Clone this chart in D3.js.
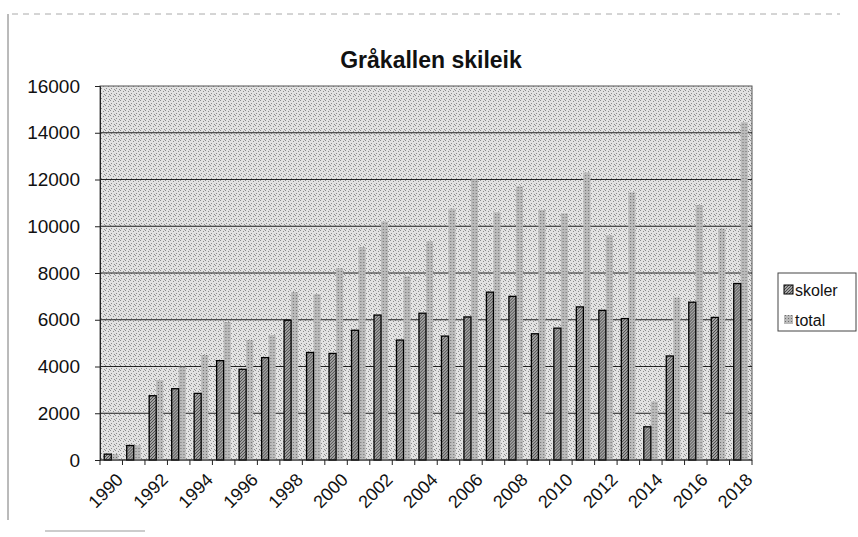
<!DOCTYPE html>
<html>
<head>
<meta charset="utf-8">
<script src="https://cdn.jsdelivr.net/npm/d3@7"></script>
<style>
  body { margin: 0; background: #fff; }
  text { font-family: "Liberation Sans", Arial, sans-serif; fill: #111; }
</style>
</head>
<body>
<div class="chart-box"></div>
<script>
// Data
const years = d3.range(1990, 2019).map(String);
const skoler = [250, 620, 2750, 3050, 2850, 4250, 3880, 4380, 5980, 4600, 4560, 5550, 6200, 5130, 6280,
  5300, 6120, 7180, 7000, 5400, 5640, 6550, 6400, 6050, 1420, 4450, 6750, 6100, 7550];
const total = [250, 620, 3420, 3990, 4490, 5900, 5130, 5350, 7180, 7100, 8200, 9100, 10200, 7850, 9350,
  10750, 12000, 10600, 11700, 10700, 10550, 12300, 9600, 11450, 2500, 6950, 10900, 9900, 14450];
const seriesNames = ['skoler', 'total'];
const yTicks = [0, 2000, 4000, 6000, 8000, 10000, 12000, 14000, 16000];

const W = 858, H = 537;
const plot = { left: 100, right: 752, top: 86, bottom: 460 };

const svg = d3.select('.chart-box')
  .append('svg')
    .attr('width', W)
    .attr('height', H);

// Stipple / hatch textures like the scanned print
const defs = svg.append('defs');
let bgPat = defs.append('pattern')
  .attr('id', 'bg').attr('width', 5).attr('height', 5)
  .attr('patternUnits', 'userSpaceOnUse');
bgPat.append('rect').attr('width', 5).attr('height', 5).attr('fill', '#e2e2e2');
[[0, 0], [3, 1], [1, 3], [4, 4]].forEach(p =>
  bgPat.append('rect').attr('x', p[0]).attr('y', p[1]).attr('width', 1).attr('height', 1).attr('fill', '#8c8c8c'));

let skPat = defs.append('pattern')
  .attr('id', 'sk').attr('width', 3).attr('height', 3)
  .attr('patternUnits', 'userSpaceOnUse');
skPat.append('rect').attr('width', 3).attr('height', 3).attr('fill', '#a4a4a4');
skPat.append('path').attr('d', 'M0,3 L3,0').attr('stroke', '#4a4a4a').attr('stroke-width', 1);

let toPat = defs.append('pattern')
  .attr('id', 'to').attr('width', 3).attr('height', 3)
  .attr('patternUnits', 'userSpaceOnUse');
toPat.append('rect').attr('width', 3).attr('height', 3).attr('fill', '#bababa');
toPat.append('rect').attr('x', 1).attr('y', 1).attr('width', 1).attr('height', 1).attr('fill', '#6e6e6e');

// Faint scan border of the chart area
svg.append('line')
  .attr('x1', 8).attr('x2', 8).attr('y1', 14).attr('y2', 520)
  .attr('stroke', '#777').attr('stroke-width', 1);
svg.append('line')
  .attr('x1', 12).attr('x2', 840).attr('y1', 14).attr('y2', 14)
  .attr('stroke', '#aaa').attr('stroke-width', 1).attr('stroke-dasharray', '6,5');
svg.append('line')
  .attr('x1', 45).attr('x2', 145).attr('y1', 531).attr('y2', 531)
  .attr('stroke', '#999').attr('stroke-width', 1);

const x = d3.scaleBand()
  .domain(years)
  .range([plot.left, plot.right])
  .padding(0);

const x1 = d3.scaleBand()
  .domain(seriesNames)
  .range([0, x.bandwidth()])
  .paddingOuter(0.6)
  .paddingInner(0);

const y = d3.scaleLinear()
  .domain([0, 16000])
  .range([plot.bottom, plot.top]);

// Plot background
svg.append('rect')
  .attr('x', plot.left).attr('y', plot.top)
  .attr('width', plot.right - plot.left)
  .attr('height', plot.bottom - plot.top)
  .attr('fill', 'url(#bg)')
  .attr('stroke', '#555').attr('stroke-width', 1);

// Gridlines
svg.append('g')
  .selectAll('line')
  .data(yTicks.slice(1, -1))
  .enter().append('line')
    .attr('x1', plot.left).attr('x2', plot.right)
    .attr('y1', d => y(d)).attr('y2', d => y(d))
    .attr('stroke', '#222').attr('stroke-width', 1);

// Bars
let rows = years.map((yr, i) => ({ year: yr, skoler: skoler[i], total: total[i] }));
let groups = svg.append('g')
  .selectAll('g')
  .data(rows)
  .enter().append('g')
    .attr('transform', d => 'translate(' + x(d.year) + ',0)');

groups.append('rect')
  .attr('x', x1('total'))
  .attr('y', d => y(d.total))
  .attr('width', x1.bandwidth())
  .attr('height', d => y(0) - y(d.total))
  .attr('fill', 'url(#to)');

groups.append('rect')
  .attr('x', x1('skoler'))
  .attr('y', d => y(d.skoler))
  .attr('width', x1.bandwidth())
  .attr('height', d => y(0) - y(d.skoler))
  .attr('fill', 'url(#sk)')
  .attr('stroke', '#000').attr('stroke-width', 1.3);

// Y axis
let yAxis = svg.append('g')
  .attr('transform', 'translate(' + plot.left + ',0)')
  .call(d3.axisLeft(y).tickValues(yTicks).tickSize(5).tickPadding(15).tickFormat(d3.format('d')));
yAxis.select('.domain').attr('stroke', '#222');
yAxis.selectAll('.tick line').attr('stroke', '#222');
yAxis.selectAll('.tick text')
  .style('font-size', '19px')
  .attr('fill', '#111');

// X axis, ticks at category boundaries
let xAxis = svg.append('g')
  .attr('transform', 'translate(0,' + plot.bottom + ')');
xAxis.append('line')
  .attr('x1', plot.left).attr('x2', plot.right)
  .attr('stroke', '#222');
xAxis.selectAll('.bound')
  .data(years.concat(['end']))
  .enter().append('line')
    .attr('class', 'bound')
    .attr('x1', d => d == 'end' ? plot.right : x(d))
    .attr('x2', d => d == 'end' ? plot.right : x(d))
    .attr('y1', 0).attr('y2', 5)
    .attr('stroke', '#222');
xAxis.selectAll('text')
  .data(years.filter((d, i) => i % 2 == 0))
  .enter().append('text')
    .attr('transform', d => 'translate(' + (x(d) + x.bandwidth() / 2 + 4) + ',12) rotate(-45)')
    .attr('text-anchor', 'end')
    .attr('dy', '0.7em')
    .style('font-size', '18px')
    .text(d => d);

// Title
svg.append('text')
  .attr('x', 431).attr('y', 68)
  .attr('text-anchor', 'middle')
  .style('font-size', '23px')
  .style('font-weight', 'bold')
  .text('Gråkallen skileik');

// Legend
let legend = svg.append('g')
  .attr('transform', 'translate(778, 273)');
legend.append('rect')
  .attr('width', 78).attr('height', 58)
  .attr('fill', '#fff')
  .attr('stroke', '#444').attr('stroke-width', 1);
let items = legend.selectAll('.item')
  .data(seriesNames)
  .enter().append('g')
    .attr('class', 'item')
    .attr('transform', (d, i) => 'translate(6,' + (17 + i * 30) + ')');
items.append('rect')
  .attr('x', 0).attr('y', -5)
  .attr('width', 9).attr('height', 9)
  .attr('fill', d => d == 'skoler' ? 'url(#sk)' : 'url(#to)')
  .attr('stroke', d => d == 'skoler' ? '#000' : 'none');
items.append('text')
  .attr('x', 11).attr('y', 0)
  .attr('dy', '0.35em')
  .style('font-size', '16px')
  .text(d => d);
</script>
</body>
</html>
